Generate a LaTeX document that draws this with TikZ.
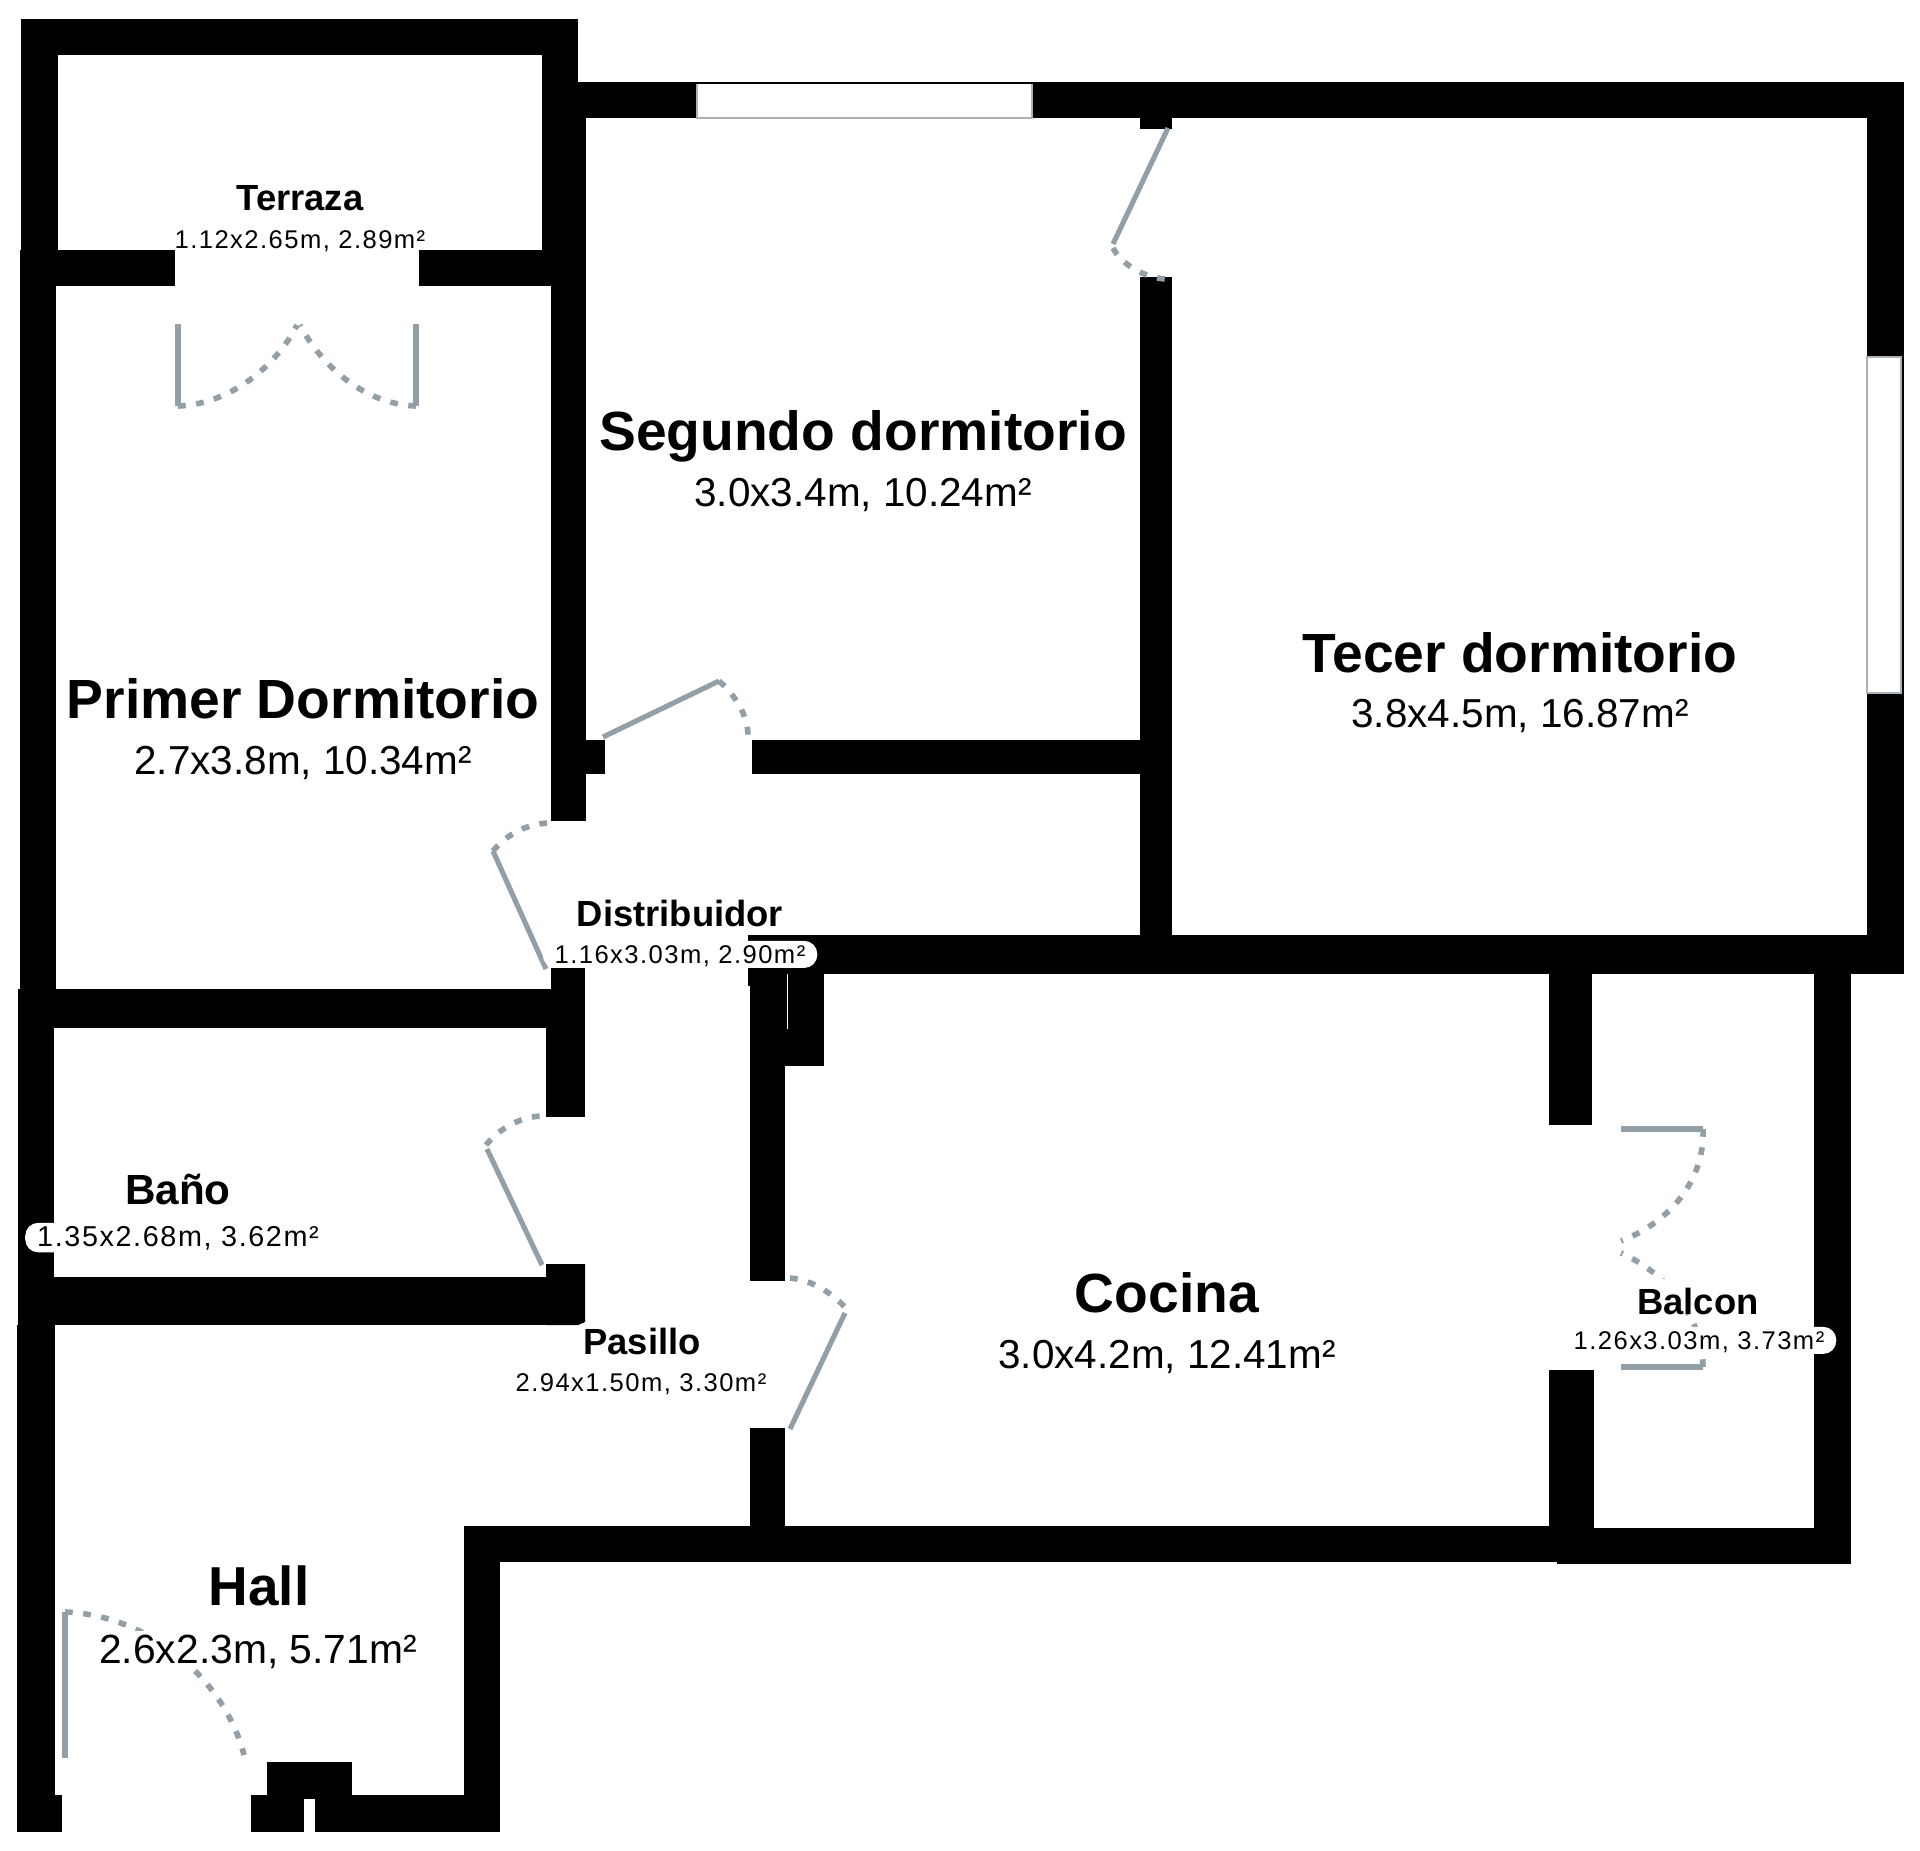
\documentclass[tikz,border=0pt]{standalone}
\usepackage{fontspec}
\setmainfont{Liberation Sans}
\newfontfamily\spacedfont[LetterSpace=5.6]{Liberation Sans}
\definecolor{doorgrey}{HTML}{929FA6}
\tikzset{
    wall/.style={fill=black},
    leaf/.style={draw=doorgrey, line width=1.45pt},
    swing/.style={draw=doorgrey, line width=1.6pt, dash pattern=on 2.2pt off 3pt},
    pane/.style={draw=doorgrey!80!white, line width=0.45pt},
    bigname/.style={anchor=base, inner sep=0pt, font=\bfseries\fontsize{15.7}{18}\selectfont},
    smallname/.style={anchor=base, inner sep=0pt, font=\bfseries\fontsize{10.35}{12}\selectfont},
    bigsub/.style={anchor=base, inner sep=0pt, font=\fontsize{11.5}{13}\selectfont},
    smallsub/.style={anchor=base, inner sep=0pt, font=\spacedfont\fontsize{7.28}{9}\selectfont},
    pill/.style={fill=white, rounded corners=3.7pt, inner xsep=3.4pt, inner ysep=0pt, text height=6.3pt, text depth=1.4pt}
}
\begin{document}
\begin{tikzpicture}[x=0.01cm, y=-0.01cm]
    \useasboundingbox (0,0) rectangle (1920,1851);
    \fill[white] (0,0) rectangle (1920,1851);
    % terraza walls
    \fill[wall] (21,19) rectangle (578,55);
    \fill[wall] (21,19) rectangle (58,252);
    \fill[wall] (542,19) rectangle (578,252);
    \fill[wall] (20,250) rectangle (175,286);
    \fill[wall] (419,250) rectangle (586,286);
    % outer walls, top and right
    \fill[wall] (578,82) rectangle (1904,118);
    \fill[wall] (1867,82) rectangle (1904,972);
    \fill[wall] (748,935) rectangle (1904,974);
    % left wall
    \fill[wall] (20,250) rectangle (56,990);
    \fill[wall] (18,989) rectangle (54,1330);
    \fill[wall] (17,1325) rectangle (55,1832);
    % primer dormitorio, right wall
    \fill[wall] (578,82) rectangle (586,250);
    \fill[wall] (551,250) rectangle (586,821);
    \fill[wall] (551,740) rectangle (605,774);
    \fill[wall] (752,740) rectangle (1140,774);
    \fill[wall] (1140,118) rectangle (1172,129);
    \fill[wall] (1140,277) rectangle (1172,935);
    % bano walls
    \fill[wall] (18,989) rectangle (551,1028);
    \fill[wall] (551,968) rectangle (585,1028);
    \fill[wall] (546,1028) rectangle (585,1117);
    \fill[wall] (18,1277) rectangle (578,1325);
    \fill[wall] (546,1264) -- (585,1264) -- (585,1322) -- (578,1325) -- (546,1325) -- cycle;
    % cocina walls
    \fill[wall] (748,974) rectangle (785,986);
    \fill[wall] (750,974) rectangle (785,1281);
    \fill[wall] (785,974) rectangle (824,1066);
    \fill[white] (786.5,974) rectangle (787.5,1029);
    \fill[wall] (750,1428) rectangle (785,1530);
    \fill[wall] (464,1526) rectangle (1557,1562);
    \fill[wall] (1549,974) rectangle (1592,1125);
    \fill[wall] (1549,1370) rectangle (1594,1530);
    % balcon walls
    \fill[wall] (1557,1528) rectangle (1851,1564);
    \fill[wall] (1814,974) rectangle (1851,1564);
    % hall walls
    \fill[wall] (464,1526) rectangle (500,1832);
    \fill[wall] (315,1795) rectangle (500,1832);
    \fill[wall] (267,1762) rectangle (352,1799);
    \fill[wall] (251,1795) rectangle (304,1832);
    \fill[wall] (17,1795) rectangle (62,1832);
    % windows
    \fill[white] (697,84) rectangle (1032,118);
    \draw[pane] (697,84) -- (697,118) -- (1032,118) -- (1032,84);
    \fill[white] (1867,357) rectangle (1901,693);
    \draw[pane] (1901,357) -- (1867,357) -- (1867,693) -- (1901,693) -- cycle;
    % doors
    \draw[leaf] (178,324) -- (178,406);
    \draw[swing] (178,406) .. controls (235,404) and (280,360) .. (297,325);
    \draw[leaf] (416,324) -- (416,406);
    \draw[swing] (416,406) .. controls (360,404) and (318,360) .. (300,325);
    \draw[leaf] (603,737) -- (719,681);
    \draw[swing] (719,681) .. controls (735,695) and (748,715) .. (748,736);
    \draw[leaf] (546,969) -- (493,851);
    \draw[swing] (493,851) .. controls (508,833) and (528,824) .. (548,823);
    \draw[leaf] (1168,128) -- (1113,244);
    \draw[swing] (1113,248) .. controls (1122,265) and (1145,278) .. (1166,279);
    \draw[leaf] (542,1265) -- (487,1149);
    \draw[swing] (486,1145) .. controls (500,1128) and (520,1117) .. (541,1116);
    \draw[leaf] (845,1313) -- (790,1429);
    \draw[swing] (790,1278) .. controls (812,1280) and (830,1292) .. (845,1307);
    \draw[leaf] (1621,1129) -- (1703,1129);
    \draw[swing] (1703,1129) .. controls (1705,1180) and (1670,1222) .. (1621,1241);
    \draw[leaf] (1621,1367) -- (1703,1367);
    \draw[swing] (1703,1367) .. controls (1703,1320) and (1670,1275) .. (1621,1253);
    \draw[leaf] (65,1612) -- (65,1758);
    \draw[swing] (65,1612) .. controls (150,1615) and (225,1680) .. (244,1755);
    % labels
    \node[smallname] (terrazaname) at (300,210) {Terraza};
    \node[smallsub] (terrazasub) at (300,248) {1.12x2.65m, 2.89m²};
    \node[bigname] (segundoname) at (863,450) {Segundo dormitorio};
    \node[bigsub] (segundosub) at (863,506) {3.0x3.4m, 10.24m²};
    \node[bigname] (tecername) at (1520,672) {Tecer dormitorio};
    \node[bigsub] (tecersub) at (1520,727) {3.8x4.5m, 16.87m²};
    \node[bigname] (primername) at (303,718) {Primer Dormitorio};
    \node[bigsub] (primersub) at (303,774) {2.7x3.8m, 10.34m²};
    \node[smallname] (distribuidorname) at (680,926) {Distribuidor};
    \node[smallsub, pill] (distribuidorsub) at (680,963) {1.16x3.03m, 2.90m²};
    \node[smallname, font=\bfseries\fontsize{12}{14}\selectfont] (banoname) at (178,1204) {Baño};
    \node[smallsub, pill, font=\spacedfont\fontsize{8.18}{10}\selectfont, text height=6.6pt, text depth=1.8pt] (banosub) at (178,1246) {1.35x2.68m, 3.62m²};
    \node[smallname] (pasilloname) at (642,1354) {Pasillo};
    \node[smallsub] (pasillosub) at (641,1391) {2.94x1.50m, 3.30m²};
    \node[bigname] (cocinaname) at (1167,1312) {Cocina};
    \node[bigsub] (cocinasub) at (1167,1368) {3.0x4.2m, 12.41m²};
    \node[smallname, fill=white, text height=10pt] (balconname) at (1698,1314) {Balcon};
    \node[smallsub, pill] (balconsub) at (1699,1349) {1.26x3.03m, 3.73m²};
    \node[bigname, font=\bfseries\fontsize{15.6}{18}\selectfont] (hallname) at (259,1605) {Hall};
    \node[bigsub, fill=white, text height=9pt, text depth=1pt, font=\fontsize{11.6}{13}\selectfont] (hallsub) at (258,1663) {2.6x2.3m, 5.71m²};
\end{tikzpicture}
\end{document}
